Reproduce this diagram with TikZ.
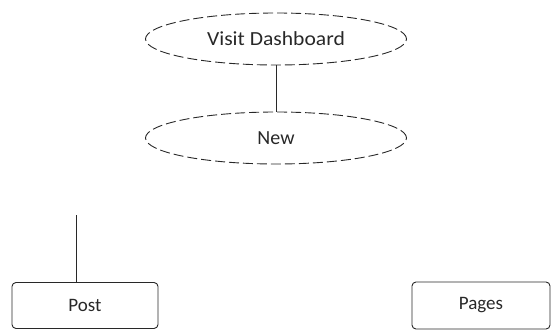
\documentclass[tikz,border=0pt]{standalone}
\usepackage{fontspec}
\setmainfont{Carlito}
\usetikzlibrary{shapes.geometric}
\definecolor{ink}{RGB}{40,40,40}
\tikzset{
  usecase/.style={ellipse, draw=ink, dashed, dash pattern=on 10pt off 4pt, line width=0.9pt,
    minimum width=261pt, minimum height=52pt, inner sep=0pt, text=ink,
    font=\fontsize{20}{23}\selectfont},
  boxnode/.style={rectangle, rounded corners=4pt, draw=ink, line width=0.9pt, inner sep=0pt,
    text=ink, font=\fontsize{19}{22}\selectfont},
  link/.style={draw=ink, line width=1pt}
}
\begin{document}
\begin{tikzpicture}[x=1pt,y=-1pt]
\useasboundingbox (0,0) rectangle (551,331);
\node[usecase] (visit) at (276,39) {\scalebox{1.08}[1]{Visit Dashboard}};
\node[usecase] (new) at (276,138) {New};
\node[boxnode, minimum width=146pt, minimum height=46pt] (post) at (85,305.5) {Post};
\node[boxnode, minimum width=138pt, minimum height=47pt] (pages) at (481,305.5) {Pages};
\coordinate (top) at (76,215);
\draw[link] (visit.south) -- (new.north);
\draw[link] (top) -- (top |- post.north);
\end{tikzpicture}
\end{document}
